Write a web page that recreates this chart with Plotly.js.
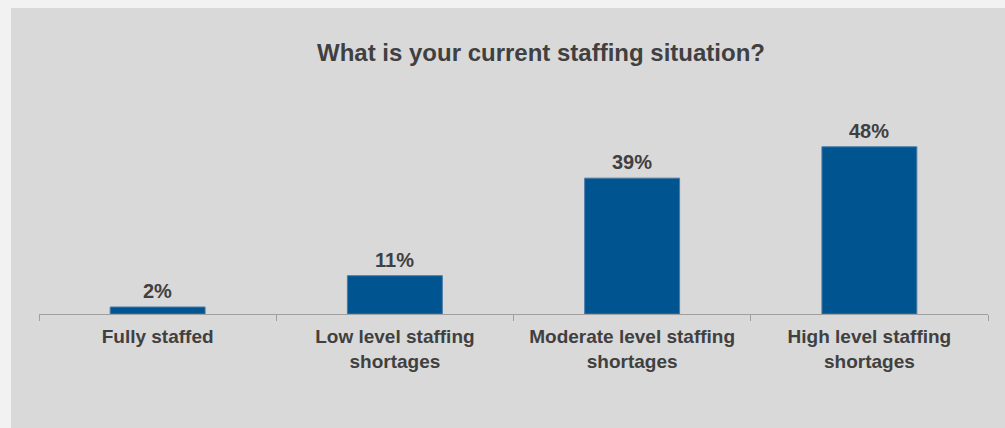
<!DOCTYPE html>
<html>
<head>
<meta charset="utf-8">
<script src="https://cdn.plot.ly/plotly-3.0.1.min.js"></script>
<style>
  html, body { margin: 0; padding: 0; background: #f2f2f2; width: 1005px; height: 428px; overflow: hidden; }
  #chart { position: absolute; left: 11px; top: 8px; width: 994px; height: 420px; }
</style>
</head>
<body>
<div id="chart"></div>
<script>
const categories = [
  "Fully staffed",
  "Low level staffing<br>shortages",
  "Moderate level staffing<br>shortages",
  "High level staffing<br>shortages"
];
const values = [2, 11, 39, 48];
const valueLabels = values.map(v => v + "%");
const chartTitle = "What is your current staffing situation?";

const textColor = "#404040";
const fontFamily = "Arial, 'Liberation Sans', sans-serif";

const trace = {
  type: "bar",
  x: categories,
  y: values,
  width: 0.4,
  marker: { color: "#00548f", line: { color: "#4a7aa8", width: 1 } },
  hoverinfo: "skip"
};

const annotations = categories.map((c, i) => ({
  x: c, y: values[i], xref: "x", yref: "y",
  text: valueLabels[i], showarrow: false,
  yanchor: "bottom", yshift: 3,
  font: { family: fontFamily, size: 20, color: textColor, weight: "bold" }
}));

const layout = {
  width: 994,
  height: 420,
  margin: { l: 28, r: 17, t: 97, b: 114 },
  paper_bgcolor: "#d9d9d9",
  plot_bgcolor: "rgba(0,0,0,0)",
  showlegend: false,
  title: {
    text: "<b>" + chartTitle + "</b>",
    xref: "container", x: 530 / 994, xanchor: "center",
    yref: "container", y: 1 - 45 / 420, yanchor: "middle",
    font: { family: fontFamily, size: 24, color: textColor }
  },
  xaxis: {
    type: "category",
    showline: true, linecolor: "#a0a0a0", linewidth: 1,
    ticks: "outside", ticklen: 6, tickcolor: "#a0a0a0", tickson: "boundaries",
    ticklabelstandoff: 5,
    tickfont: { family: fontFamily, size: 19, color: textColor, weight: "bold" },
    showgrid: false, zeroline: false, fixedrange: true
  },
  yaxis: {
    range: [0, 60],
    visible: false, showgrid: false, zeroline: false, fixedrange: true
  },
  annotations: annotations
};

Plotly.newPlot("chart", [trace], layout, { displayModeBar: false, staticPlot: true });
</script>
</body>
</html>
